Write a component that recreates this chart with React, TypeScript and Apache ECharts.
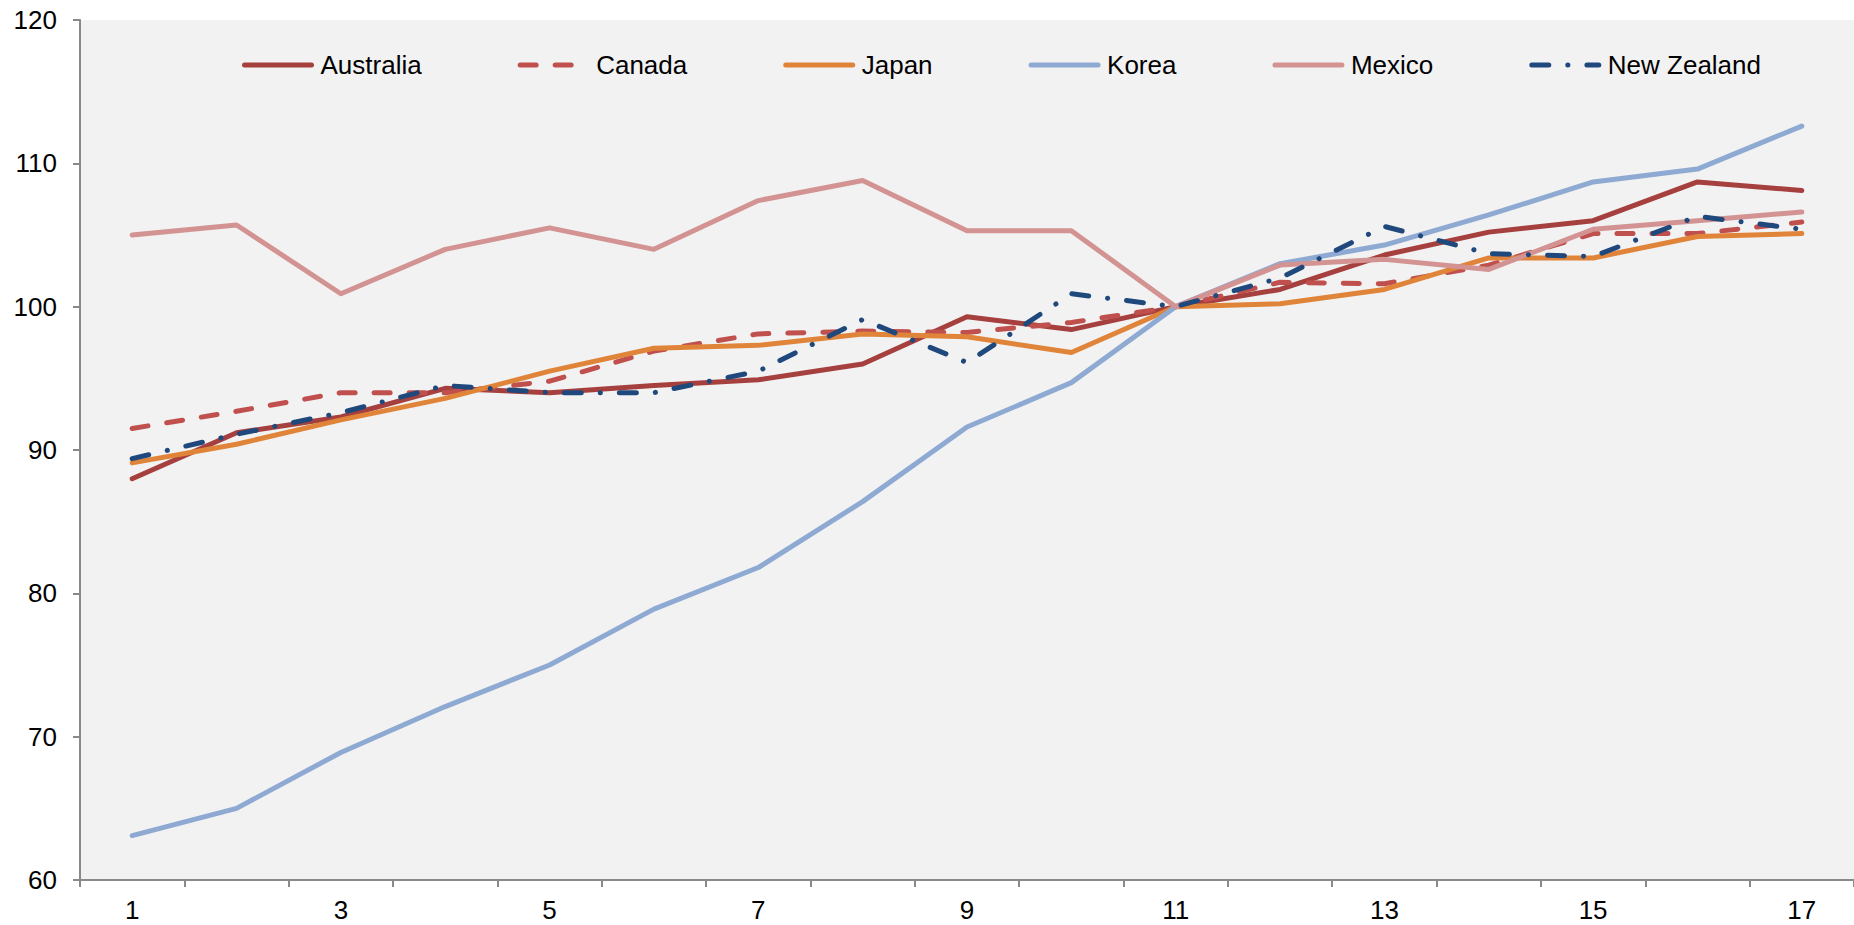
import React, { useEffect, useRef } from "react";
import * as echarts from "echarts";

const categories = ["1","2","3","4","5","6","7","8","9","10","11","12","13","14","15","16","17"];
const australia = [88.0, 91.2, 92.3, 94.3, 94.0, 94.5, 94.9, 96.0, 99.3, 98.4, 100, 101.2, 103.6, 105.2, 106.0, 108.7, 108.1];
const canada = [91.5, 92.7, 94.0, 94.0, 94.8, 96.9, 98.1, 98.3, 98.2, 98.9, 100, 101.7, 101.6, 102.9, 105.1, 105.1, 105.9];
const japan = [89.1, 90.4, 92.1, 93.6, 95.5, 97.1, 97.3, 98.1, 97.9, 96.8, 100, 100.2, 101.2, 103.4, 103.4, 104.9, 105.1];
const korea = [63.1, 65.0, 68.9, 72.1, 75.0, 78.9, 81.8, 86.4, 91.6, 94.7, 100, 103.0, 104.3, 106.4, 108.7, 109.6, 112.6];
const mexico = [105.0, 105.7, 100.9, 104.0, 105.5, 104.0, 107.4, 108.8, 105.3, 105.3, 100, 102.9, 103.3, 102.6, 105.4, 106.0, 106.6];
const newZealand = [89.4, 91.1, 92.6, 94.5, 94.0, 94.0, 95.5, 99.1, 96.1, 100.9, 100, 102.0, 105.6, 103.7, 103.5, 106.3, 105.4];

const FONT = "'Liberation Sans', Arial, sans-serif";

export default function App() {
  const ref = useRef<HTMLDivElement>(null);
  useEffect(() => {
    document.body.style.margin = "0";
    if (!ref.current) return;
    const chart = echarts.init(ref.current, null, { renderer: "svg" });
    const mk = (name: string, data: number[], color: string, dash: any) => ({
      name,
      type: "line",
      data,
      symbol: "none",
      showSymbol: false,
      lineStyle: { color, width: 5, type: dash, cap: "round", join: "round" },
      itemStyle: { color },
    });
    chart.setOption({
      animation: false,
      backgroundColor: "#ffffff",
      textStyle: { fontFamily: FONT },
      grid: {
        left: 80,
        right: 0,
        top: 20,
        bottom: 45,
        show: true,
        backgroundColor: "#f2f2f2",
        borderWidth: 0,
      },
      legend: {
        left: 237,
        top: 47,
        itemWidth: 67,
        itemHeight: 5,
        itemGap: 96,
        itemStyle: { opacity: 0 },
        lineStyle: { width: 5, cap: "round" },
        textStyle: { fontSize: 26, color: "#000", fontFamily: FONT, padding: [0, 0, 0, 4] },
        data: ["Australia", "Canada", "Japan", "Korea", "Mexico", "New Zealand"],
      },
      xAxis: {
        type: "category",
        data: categories,
        boundaryGap: true,
        axisLine: { lineStyle: { color: "#898989", width: 2 } },
        axisTick: { show: true, interval: 0, length: 7, lineStyle: { color: "#898989", width: 2 } },
        axisLabel: { interval: 1, fontSize: 26, color: "#000", fontFamily: FONT, margin: 17 },
        splitLine: { show: false },
      },
      yAxis: {
        type: "value",
        min: 60,
        max: 120,
        interval: 10,
        axisLine: { show: true, lineStyle: { color: "#898989", width: 2 } },
        axisTick: { show: true, length: 7, lineStyle: { color: "#898989", width: 2 } },
        axisLabel: { fontSize: 26, color: "#000", fontFamily: FONT, margin: 23 },
        splitLine: { show: false },
      },
      series: [
        mk("Australia", australia, "#a6403e", "solid"),
        mk("Canada", canada, "#c0504d", [16, 19]),
        mk("Japan", japan, "#e0843a", "solid"),
        mk("Korea", korea, "#8eaad2", "solid"),
        mk("Mexico", mexico, "#d29392", "solid"),
        mk("New Zealand", newZealand, "#1f497d", [17, 19, 0.1, 19]),
      ],
    });
    return () => chart.dispose();
  }, []);
  return <div ref={ref} style={{ width: 1854, height: 925 }} />;
}
